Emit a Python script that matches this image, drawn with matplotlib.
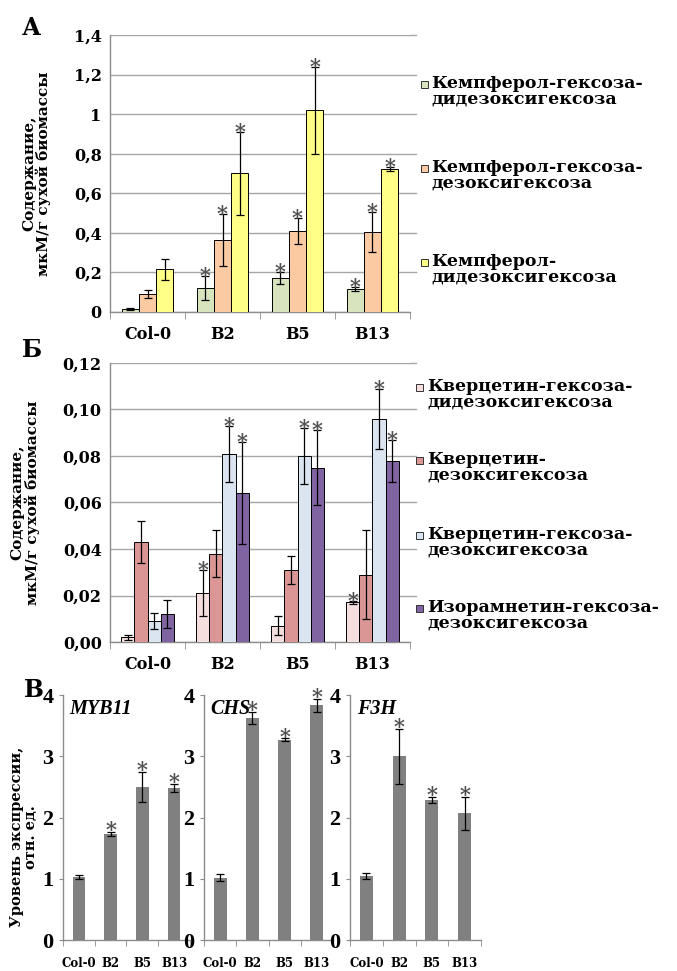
import matplotlib
matplotlib.use("Agg")
import matplotlib.pyplot as plt
import numpy as np
from matplotlib.patches import Rectangle

plt.rcParams['font.family'] = ['DejaVu Serif']
plt.rcParams['font.weight'] = 'bold'

categories = ["Col-0", "B2", "B5", "B13"]

# Panel A
a_names = ["Кемпферол-гексоза-\nдидезоксигексоза",
           "Кемпферол-гексоза-\nдезоксигексоза",
           "Кемпферол-\nдидезоксигексоза"]
a_vals = [[0.015, 0.12, 0.17, 0.115],
          [0.09, 0.365, 0.41, 0.405],
          [0.215, 0.70, 1.02, 0.725]]
a_errs = [[0.003, 0.06, 0.03, 0.01],
          [0.02, 0.13, 0.065, 0.10],
          [0.055, 0.21, 0.22, 0.01]]
a_stars = [[0, 1, 1, 1], [0, 1, 1, 1], [0, 1, 1, 1]]
a_colors = ["#d7e4bd", "#fbcaa3", "#ffff88"]
a_ticks = [0, 0.2, 0.4, 0.6, 0.8, 1.0, 1.2, 1.4]
a_ticklabels = ["0", "0,2", "0,4", "0,6", "0,8", "1", "1,2", "1,4"]

# Panel B
b_names = ["Кверцетин-гексоза-\nдидезоксигексоза",
           "Кверцетин-\nдезоксигексоза",
           "Кверцетин-гексоза-\nдезоксигексоза",
           "Изорамнетин-гексоза-\nдезоксигексоза"]
b_vals = [[0.002, 0.021, 0.007, 0.017],
          [0.043, 0.038, 0.031, 0.029],
          [0.009, 0.081, 0.080, 0.096],
          [0.012, 0.064, 0.075, 0.078]]
b_errs = [[0.001, 0.010, 0.004, 0.0005],
          [0.009, 0.010, 0.006, 0.019],
          [0.0035, 0.012, 0.012, 0.013],
          [0.006, 0.022, 0.016, 0.009]]
b_stars = [[0, 1, 0, 1], [0, 0, 0, 0], [0, 1, 1, 1], [0, 1, 1, 1]]
b_colors = ["#f4dede", "#d99694", "#dbe5f1", "#8064a2"]
b_ticks = [0, 0.02, 0.04, 0.06, 0.08, 0.10, 0.12]
b_ticklabels = ["0,00", "0,02", "0,04", "0,06", "0,08", "0,10", "0,12"]

# Panel C
genes = ["MYB11", "CHS", "F3H"]
c_vals = [[1.03, 1.73, 2.50, 2.48],
          [1.02, 3.62, 3.27, 3.83],
          [1.05, 3.00, 2.28, 2.07]]
c_errs = [[0.03, 0.04, 0.25, 0.07],
          [0.05, 0.10, 0.02, 0.10],
          [0.05, 0.45, 0.05, 0.27]]
c_stars = [[0, 1, 1, 1], [0, 1, 1, 1], [0, 1, 1, 1]]
c_ticks = [0, 1, 2, 3, 4]

fig = plt.figure(figsize=(6.77, 9.71), dpi=100)
W, H = 677.0, 971.0

def fx(px):
    return px / W

def fy(py):
    return 1 - py / H

grid_c = "#a6a6a6"
spine_c = "#8c8c8c"
star_c = "#505050"

def grouped(ax, vals, errs, stars, colors, width, ylim, ticks, ticklabels):
    n = len(vals)
    x = np.arange(len(categories))
    for i in range(n):
        off = (i - (n - 1) / 2) * width
        ax.bar(x + off, vals[i], width, color=colors[i], edgecolor="black",
               linewidth=0.7, zorder=3,
               yerr=errs[i], error_kw=dict(ecolor="black", elinewidth=0.9,
                                           capsize=3, capthick=0.9, zorder=4))
        for j in range(len(categories)):
            if stars[i][j]:
                ax.text(x[j] + off, vals[i][j] + errs[i][j], "*", ha="center",
                        va="center", fontsize=15, color=star_c, zorder=5)
    ax.set_xlim(-0.5, len(categories) - 0.5)
    ax.set_ylim(*ylim)
    ax.set_yticks(ticks)
    ax.set_yticklabels(ticklabels, fontsize=11.5, fontweight="bold")
    ax.set_xticks(x)
    ax.set_xticklabels(categories, fontsize=11.5, fontweight="bold")
    ax.set_xticks(np.arange(-0.5, len(categories), 1), minor=True)
    ax.tick_params(axis="x", which="major", length=0, pad=10)
    ax.tick_params(axis="x", which="minor", length=5, color=spine_c)
    ax.tick_params(axis="y", length=0, pad=6)
    ax.yaxis.grid(True, color=grid_c, linewidth=1.0, zorder=0)
    ax.set_axisbelow(True)
    for s in ["top", "right"]:
        ax.spines[s].set_visible(False)
    for s in ["left", "bottom"]:
        ax.spines[s].set_color(spine_c)
        ax.spines[s].set_linewidth(1.0)
    for yv in ticks[1:]:
        ax.plot([1, 1.02], [yv, yv], color=grid_c, lw=1.0,
                transform=ax.get_yaxis_transform(), clip_on=False)
    ax.set_ylabel("Содержание,\nмкМ/г сухой биомассы", fontsize=11,
                  fontweight="bold", labelpad=16, linespacing=1.0)

# Panel A axes
axA = fig.add_axes([fx(110), fy(312), fx(410) - fx(110), fy(35) - fy(312)])
grouped(axA, a_vals, a_errs, a_stars, a_colors, 0.23, (0, 1.4), a_ticks, a_ticklabels)

# Panel B axes
axB = fig.add_axes([fx(110), fy(642), fx(410) - fx(110), fy(363) - fy(642)])
grouped(axB, b_vals, b_errs, b_stars, b_colors, 0.175, (0, 0.12), b_ticks, b_ticklabels)

# Legends (manual)
def legend(names, colors, ys, xbox, xtext):
    for name, col, y in zip(names, colors, ys):
        fig.patches.append(Rectangle((fx(xbox), fy(y + 4)), fx(7), 7 / H,
                                     facecolor=col, edgecolor="#333333",
                                     linewidth=0.7, transform=fig.transFigure))
        fig.text(fx(xtext), fy(y - 9), name, fontsize=12.5, fontweight="bold",
                 va="top", ha="left", linespacing=0.9)

legend(a_names, a_colors, [84, 168, 262], 421, 431)
legend(b_names, b_colors, [387, 460, 535, 608], 416, 427)

# Panel C
c_lefts = [63, 204, 350]
c_rights = [190, 333, 481]
for k in range(3):
    ax = fig.add_axes([fx(c_lefts[k]), fy(940), fx(c_rights[k]) - fx(c_lefts[k]),
                       fy(695) - fy(940)])
    x = np.arange(len(categories))
    ax.bar(x, c_vals[k], 0.4, color="#808080", zorder=3,
           yerr=c_errs[k], error_kw=dict(ecolor="black", elinewidth=0.9,
                                         capsize=3, capthick=0.9, zorder=4))
    for j in range(len(categories)):
        if c_stars[k][j]:
            ax.text(x[j], c_vals[k][j] + c_errs[k][j] + 0.03, "*", ha="center",
                    va="center", fontsize=15, color=star_c, zorder=5)
    ax.set_xlim(-0.5, len(categories) - 0.5)
    ax.set_ylim(0, 4)
    ax.set_yticks(c_ticks)
    ax.set_yticklabels([str(t) for t in c_ticks], fontsize=16, fontweight="bold",
                       family="Liberation Serif")
    ax.set_xticks(x)
    ax.set_xticklabels(categories, fontsize=8.5, fontweight="bold")
    ax.set_xticks(np.arange(-0.5, len(categories), 1), minor=True)
    ax.tick_params(axis="x", which="major", length=0, pad=12)
    ax.tick_params(axis="x", which="minor", length=4, color=spine_c)
    ax.tick_params(axis="y", length=3, color=spine_c, pad=4)
    for s in ["top", "right"]:
        ax.spines[s].set_visible(False)
    for s in ["left", "bottom"]:
        ax.spines[s].set_color(spine_c)
        ax.spines[s].set_linewidth(1.0)
    ax.text(0.05, 0.985, genes[k], transform=ax.transAxes, fontsize=14.5,
            fontweight="bold", style="italic", va="top", ha="left",
            family="Liberation Serif")
    if k == 0:
        ax.set_ylabel("Уровень экспрессии,\nотн. ед.", fontsize=10.5,
                      fontweight="bold", labelpad=4, linespacing=1.0)
        ax.yaxis.set_label_coords(-0.2, 0.42)

# Panel letters
fig.text(fx(22), fy(28), "А", fontsize=17, fontweight="bold", va="center")
fig.text(fx(22), fy(350), "Б", fontsize=17, fontweight="bold", va="center")
fig.text(fx(24), fy(690), "В", fontsize=17, fontweight="bold", va="center")

fig.savefig("out.png", dpi=100)
